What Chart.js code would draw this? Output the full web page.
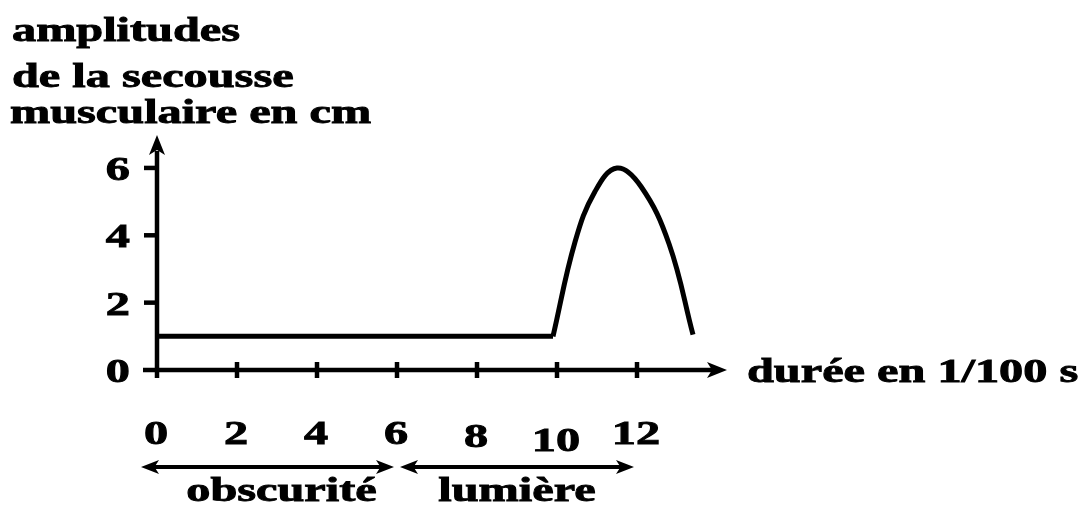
<!DOCTYPE html>
<html>
<head>
<meta charset="utf-8">
<script src="https://cdn.jsdelivr.net/npm/chart.js@4.4.1/dist/chart.umd.min.js"></script>
<style>
    html, body { margin: 0; background: #fff; }
    #wrap { width: 1092px; height: 506px; }
</style>
</head>
<body>
<div id="wrap"><canvas id="chart" width="1092" height="506"></canvas></div>
<script>
// Data
const flatX = [0, 9.9];
const flatY = [1, 1];
const twitchX = [9.9, 10.45, 10.95, 11.5, 12.1, 12.8, 13.4];
const twitchY = [1, 3.8, 5.3, 6, 5.45, 3.75, 1.05];
const xTicks = [0, 2, 4, 6, 8, 10, 12];
const yTicks = [0, 2, 4, 6];
const yTitle = ['amplitudes', 'de la secousse', 'musculaire en cm'];
const xTitle = 'durée en 1/100 s';
const phaseLabels = ['obscurité', 'lumière'];
const phaseStart = [0, 6];
const phaseEnd = [6, 12];

const FONT = 'bold 34px "Liberation Serif", "DejaVu Serif", serif';
const STRETCH = 1.42;

function toPoints(xs, ys) {
    return xs.map((x, i) => ({ x: x, y: ys[i] }));
}

// text is wider than tall in the original, so stretch it horizontally
function stretchText(ctx, txt, x, y, align) {
    ctx.save();
    ctx.translate(x, y);
    ctx.scale(STRETCH, 1);
    ctx.textAlign = align;
    ctx.textBaseline = 'alphabetic';
    ctx.lineWidth = 0.9;
    ctx.fillText(txt, 0, 0);
    ctx.strokeText(txt, 0, 0);
    ctx.restore();
}

function line(ctx, x1, y1, x2, y2) {
    ctx.beginPath();
    ctx.moveTo(x1, y1);
    ctx.lineTo(x2, y2);
    ctx.stroke();
}

// filled arrow head, tip at (x, y), pointing in direction dx, dy
function arrowHead(ctx, x, y, dx, dy, len, half) {
    const px = -dy, py = dx;
    ctx.beginPath();
    ctx.moveTo(x, y);
    ctx.lineTo(x - dx * len + px * half, y - dy * len + py * half);
    ctx.lineTo(x - dx * len * 0.75, y - dy * len * 0.75);
    ctx.lineTo(x - dx * len - px * half, y - dy * len - py * half);
    ctx.closePath();
    ctx.fill();
}

const axesPlugin = {
    id: 'axes',
    beforeDatasetsDraw(chart) {
        const { ctx, scales: { x, y } } = chart;
        const x0 = x.getPixelForValue(0);
        const y0 = y.getPixelForValue(0);
        const xEnd = x.getPixelForValue(x.max) + 10;
        const yEnd = y.getPixelForValue(y.max);

        ctx.save();
        ctx.strokeStyle = '#000';
        ctx.fillStyle = '#000';
        ctx.lineWidth = 4.5;
        ctx.lineCap = 'butt';

        // axes
        line(ctx, x0, y0 + 8, x0, yEnd + 10);
        arrowHead(ctx, x0, yEnd - 6, 0, -1, 20, 8);
        line(ctx, x0 - 14, y0, xEnd - 10, y0);
        arrowHead(ctx, xEnd, y0, 1, 0, 20, 8);

        // ticks
        yTicks.forEach(v => {
            if (v === 0) return;
            const py = y.getPixelForValue(v);
            line(ctx, x0 - 13, py, x0, py);
        });
        xTicks.forEach(v => {
            if (v === 0) return;
            const px = x.getPixelForValue(v);
            line(ctx, px, y0 - 8, px, y0 + 8);
        });

        // tick labels
        ctx.font = FONT;
        yTicks.forEach(v => {
            stretchText(ctx, String(v), x0 - 27, y.getPixelForValue(v) + 12, 'right');
        });
        xTicks.forEach(v => {
            const drop = v === 10 ? 7 : (v === 8 ? 3 : 0);
            stretchText(ctx, String(v), x.getPixelForValue(v) - 1, y0 + 74 + drop, 'center');
        });

        // axis titles
        stretchText(ctx, yTitle[0], 12, 41, 'left');
        stretchText(ctx, yTitle[1], 12, 87, 'left');
        stretchText(ctx, yTitle[2], 10, 123, 'left');
        stretchText(ctx, xTitle, xEnd + 20, y0 + 12, 'left');

        // light / dark periods
        const ay = y0 + 97;
        ctx.lineWidth = 4;
        phaseLabels.forEach((lab, i) => {
            const a = x.getPixelForValue(phaseStart[i]) - (i === 0 ? 16 : -3);
            const b = x.getPixelForValue(phaseEnd[i]) - 3;
            line(ctx, a + 10, ay, b - 10, ay);
            arrowHead(ctx, a, ay, -1, 0, 18, 7);
            arrowHead(ctx, b, ay, 1, 0, 18, 7);
            stretchText(ctx, lab, (a + b) / 2 + (i === 0 ? 14 : 0), ay + 34, 'center');
        });
        ctx.restore();
    }
};

const ctx = document.getElementById('chart').getContext('2d');
const chart = new Chart(ctx, {
    type: 'line',
    data: {
        datasets: [{
            data: toPoints(flatX, flatY),
            borderColor: '#000',
            borderWidth: 5,
            tension: 0
        }, {
            data: toPoints(twitchX, twitchY),
            borderColor: '#000',
            borderWidth: 5,
            tension: 0.4
        }]
    },
    options: {
        responsive: false,
        animation: false,
        layout: {
            padding: { left: 157, right: 375, top: 141, bottom: 136 }
        },
        scales: {
            x: { type: 'linear', min: 0, max: 14, display: false },
            y: { min: 0, max: 6.8, display: false }
        },
        elements: {
            point: { radius: 0 },
            line: { borderCapStyle: 'butt', borderJoinStyle: 'miter' }
        },
        plugins: {
            legend: { display: false },
            tooltip: { enabled: false }
        }
    },
    plugins: [axesPlugin]
});
</script>
</body>
</html>
